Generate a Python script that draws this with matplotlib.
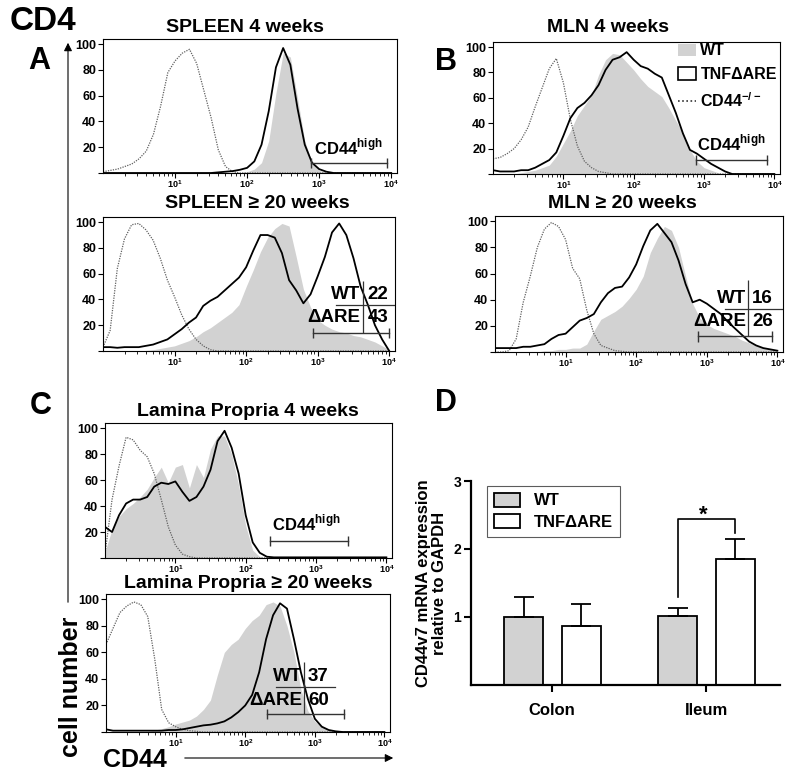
import numpy as np
import matplotlib.pyplot as plt
from matplotlib.patches import Patch
from matplotlib.lines import Line2D
from matplotlib.ticker import LogLocator, NullFormatter

plt.rcParams['font.family'] = ['Liberation Sans', 'DejaVu Sans']
plt.rcParams['font.weight'] = 'bold'
plt.rcParams['axes.labelweight'] = 'bold'
plt.rcParams['mathtext.fontset'] = 'custom'
plt.rcParams['mathtext.rm'] = 'Liberation Sans'
plt.rcParams['mathtext.bf'] = 'Liberation Sans:bold'

W, H = 800, 777

# histogram samples: log10 of CD44 intensity, 0.0 ... 4.0
log_cd44 = np.round(np.arange(0, 4.01, 0.1), 1)

# SPLEEN 4 weeks
spleen4_ko = [1, 2, 3, 5, 7, 11, 17, 30, 52, 78,
              87, 93, 96, 85, 64, 43, 18, 5, 1, 0,
              0, 0, 0, 0, 0, 0, 0, 0, 0, 0,
              0, 0, 0, 0, 0, 0, 0, 0, 0, 0, 0]
spleen4_tnf = [0, 0, 0, 0, 0, 0, 0, 0, 0, 0,
               0, 0, 0, 0, 0, 0, 0.5, 1, 1.5, 2.5,
               4, 9, 22, 48, 82, 97, 84, 50, 22, 8,
               3, 1, 0, 0, 0, 0, 0, 0, 0, 0, 0]
spleen4_wt = [0, 0, 0, 0, 0, 0, 0, 0, 0, 0,
              0, 0, 0, 0, 0, 0, 0, 0, 0, 0,
              1, 3, 8, 25, 62, 93, 90, 58, 25, 8,
              2, 0.5, 0, 0, 0, 0, 0, 0, 0, 0, 0]

# SPLEEN >= 20 weeks
spleen20_ko = [3, 16, 64, 87, 98, 99, 94, 86, 72, 55,
               42, 28, 17, 9, 4, 1, 0, 0, 0, 0,
               0, 0, 0, 0, 0, 0, 0, 0, 0, 0,
               0, 0, 0, 0, 0, 0, 0, 0, 0, 0, 0]
spleen20_tnf = [3, 3, 2.5, 3, 3, 3, 4, 5, 7, 9,
                13, 17, 22, 26, 35, 39, 42, 47, 52, 57,
                65, 78, 90, 90, 88, 76, 55, 47, 37, 44,
                58, 73, 92, 99, 90, 72, 50, 36, 20, 9, 0]
spleen20_wt = [0, 0, 0, 0, 0, 0, 0.5, 1, 2, 3,
               4, 6, 8, 11, 15, 18, 22, 26, 30, 36,
               50, 63, 77, 88, 95, 99, 97, 73, 48, 34,
               24, 20, 17, 15, 14, 12, 11, 9, 7, 4, 1]

# MLN 4 weeks
mln4_ko = [12, 13, 16, 20, 27, 37, 53, 68, 83, 91,
           72, 43, 22, 10, 5, 2, 1, 0, 0, 0,
           0, 0, 0, 0, 0, 0, 0, 0, 0, 0,
           0, 0, 0, 0, 0, 0, 0, 0, 0, 0, 0]
mln4_tnf = [3, 2, 2, 2, 3, 3, 5, 8, 11, 17,
            30, 44, 52, 56, 62, 70, 82, 90, 92, 96,
            90, 85, 83, 79, 76, 62, 48, 32, 19, 16,
            12, 8, 5, 2, 0, 0, 0, 0, 0, 0, 0]
mln4_wt = [0, 0, 0, 0, 1, 2, 3, 5, 7, 14,
           24, 34, 46, 54, 62, 78, 90, 95, 94, 88,
           82, 75, 69, 65, 61, 52, 42, 32, 19, 10,
           5, 3, 1, 0, 0, 0, 0, 0, 0, 0, 0]

# MLN >= 20 weeks
mln20_ko = [0, 0, 1, 10, 38, 58, 80, 94, 99, 96,
            86, 64, 56, 32, 14, 5, 3, 1, 0.5, 0,
            0, 0, 0, 0, 0, 0, 0, 0, 0, 0,
            0, 0, 0, 0, 0, 0, 0, 0, 0, 0, 0]
mln20_tnf = [3, 3, 3, 3, 4, 4, 5, 6, 10, 13,
             14, 19, 24, 26, 29, 38, 45, 49, 50, 57,
             67, 81, 93, 98, 91, 84, 70, 52, 38, 40,
             37, 33, 29, 23, 18, 13, 8, 5, 3, 2, 1]
mln20_wt = [0, 0, 0, 0, 0, 0, 0, 1, 1, 2,
            2, 3, 3, 6, 16, 25, 28, 31, 35, 41,
            48, 58, 76, 87, 96, 93, 80, 58, 37, 26,
            21, 18, 16, 14, 12, 9, 7, 5, 3, 2, 0]

# Lamina Propria 4 weeks
lp4_ko = [3, 45, 71, 93, 91, 83, 78, 65, 45, 24,
          10, 3, 1, 0, 0, 0, 0, 0, 0, 0,
          0, 0, 0, 0, 0, 0, 0, 0, 0, 0,
          0, 0, 0, 0, 0, 0, 0, 0, 0, 0, 0]
lp4_tnf = [24, 20, 33, 42, 45, 45, 47, 55, 58, 57,
           59, 51, 44, 47, 55, 68, 90, 98, 85, 65,
           33, 12, 4, 1, 0.5, 0.5, 0.5, 0.5, 0.5, 0.5,
           0.5, 0.5, 0.5, 0.5, 0.5, 0.5, 0.5, 0.5, 0.5, 0.5, 0.5]
lp4_wt = [5, 22, 32, 38, 42, 47, 53, 62, 70, 58,
          70, 72, 54, 72, 62, 84, 94, 94, 80, 56,
          25, 6, 1, 0, 0, 0, 0, 0, 0, 0,
          0, 0, 0, 0, 0, 0, 0, 0, 0, 0, 0]

# Lamina Propria >= 20 weeks
lp20_ko = [66, 78, 90, 95, 98, 96, 87, 55, 17, 7,
           4, 2, 1, 0.5, 0, 0, 0, 0, 0, 0,
           0, 0, 0, 0, 0, 0, 0, 0, 0, 0,
           0, 0, 0, 0, 0, 0, 0, 0, 0, 0, 0]
lp20_tnf = [2, 1, 1, 1, 1, 1, 1, 1, 1, 1.5,
            1.5, 2, 3, 4, 5, 5.5, 6.5, 8, 11, 15,
            20, 28, 45, 70, 88, 97, 93, 70, 45, 25,
            10, 4, 1.5, 0.5, 0, 0, 0, 0, 0, 0, 0]
lp20_wt = [0, 0, 0, 0, 0, 0, 0.5, 1.5, 2.5, 4,
           6, 7.5, 9, 12, 17, 24, 43, 60, 66, 70,
           78, 84, 88, 96, 98, 95, 80, 60, 32, 16,
           8, 4, 2, 0.5, 0, 0, 0, 0, 0, 0, 0]

# panel D: CD44v7 mRNA relative to GAPDH
tissues = ['Colon', 'Ileum']
wt_mean = [1.00, 1.01]
wt_sem = [0.29, 0.12]
tnf_mean = [0.87, 1.85]
tnf_sem = [0.32, 0.29]

WT_GRAY = '#d2d2d2'

fig = plt.figure(figsize=(W / 100, H / 100), dpi=100)


def rect(l, t, r, b):
    return [l / W, 1 - b / H, (r - l) / W, (b - t) / H]


def hist_axes(box, wt, tnf, ko):
    ax = fig.add_axes(rect(*box))
    x = 10 ** log_cd44
    ax.fill_between(x, 0, wt, color=WT_GRAY, lw=0)
    ax.plot(x, ko, color='#606060', lw=0.9, ls=(0, (1, 1)))
    ax.plot(x, tnf, color='black', lw=1.3)
    ax.set_xscale('log')
    ax.set_xlim(1, 10 ** 4.08)
    ax.set_ylim(0, 104)
    ax.set_xticks([10, 100, 1000, 10000],
                  ['$10^{1}$', '$10^{2}$', '$10^{3}$', '$10^{4}$'],
                  fontsize=6.5, fontweight='normal')
    ax.xaxis.set_minor_locator(LogLocator(base=10, subs=np.arange(2, 10), numticks=20))
    ax.xaxis.set_minor_formatter(NullFormatter())
    ax.set_yticks([0, 20, 40, 60, 80, 100], ['', '20', '40', '60', '80', '100'], fontsize=9)
    ax.tick_params(which='major', direction='out', length=3.5, width=0.8, pad=1.5)
    ax.tick_params(axis='x', which='major', pad=0.5)
    ax.tick_params(which='minor', direction='out', length=2, width=0.6)
    for s in ax.spines.values():
        s.set_linewidth(0.8)
    return ax


def gate(ax, lo, hi, y):
    ax.plot([10 ** lo, 10 ** hi], [y, y], color='#333333', lw=1)
    ax.vlines([10 ** lo, 10 ** hi], y - 4, y + 4, color='#333333', lw=1)


def table(ax, split, sep_lo, sep_hi, sep_y, top, gate_y, wt_txt, are_txt, num_x):
    ax.vlines(10 ** split, gate_y, top, color='#333333', lw=0.9)
    ax.plot([10 ** sep_lo, 10 ** sep_hi], [sep_y, sep_y], color='#333333', lw=0.9)
    ax.text(10 ** (split - 0.03), sep_y + 8, 'WT', ha='right', va='center', fontsize=13.5)
    ax.text(10 ** (split - 0.03), sep_y - 10, 'ΔARE', ha='right', va='center', fontsize=13.5)
    ax.text(10 ** num_x, sep_y + 8, wt_txt, ha='center', va='center', fontsize=13.5)
    ax.text(10 ** num_x, sep_y - 10, are_txt, ha='center', va='center', fontsize=13.5)


HIGH = r'CD44$^{\mathbf{high}}$'

# A
ax = hist_axes((103, 39, 397, 173), spleen4_wt, spleen4_tnf, spleen4_ko)
gate(ax, 2.88, 3.94, 8)
ax.text(10 ** 3.41, 20, HIGH, ha='center', va='center', fontsize=12)

ax = hist_axes((103, 217, 395, 351), spleen20_wt, spleen20_tnf, spleen20_ko)
gate(ax, 2.94, 3.99, 14)
table(ax, 3.63, 3.26, 4.08, 36, 54, 14, '22', '43', 3.84)

# B
ax = hist_axes((493, 42, 780, 174), mln4_wt, mln4_tnf, mln4_ko)
gate(ax, 2.88, 3.9, 11)
ax.text(10 ** 3.38, 24, HIGH, ha='center', va='center', fontsize=12)
handles = [Patch(facecolor=WT_GRAY, edgecolor='none'),
           Patch(facecolor='white', edgecolor='black', lw=1.2),
           Line2D([], [], color='#333333', ls=(0, (1, 1.5)), lw=1.2)]
ax.legend(handles, ['WT', 'TNFΔARE', r'CD44$^{\mathbf{-/-}}$'],
          loc='upper left', bbox_to_anchor=(0.645, 0.99), frameon=False,
          handlelength=1.1, handleheight=0.8, handletextpad=0.3, labelspacing=0.55,
          borderaxespad=0, borderpad=0, prop={'size': 11.5, 'weight': 'bold'})

ax = hist_axes((495, 216, 783, 352), mln20_wt, mln20_tnf, mln20_ko)
gate(ax, 2.88, 3.93, 12)
table(ax, 3.59, 3.26, 4.08, 33, 55, 12, '16', '26', 3.79)

# C
ax = hist_axes((105, 423, 392, 558), lp4_wt, lp4_tnf, lp4_ko)
gate(ax, 2.35, 3.46, 13)
ax.text(10 ** 2.86, 27, HIGH, ha='center', va='center', fontsize=12)

ax = hist_axes((106, 594, 390, 732), lp20_wt, lp20_tnf, lp20_ko)
gate(ax, 2.32, 3.42, 13.5)
table(ax, 2.85, 2.44, 3.29, 34, 53, 13.5, '37', '60', 3.05)

# D
ax = fig.add_axes(rect(471, 481, 780, 685))
pos = np.arange(len(tissues))
bw = 0.25
ax.bar(pos - 0.185, wt_mean, bw, color=WT_GRAY, edgecolor='black', lw=1.3,
       yerr=[np.zeros(len(pos)), wt_sem], capsize=7,
       error_kw=dict(lw=1.3, capthick=1.3, ecolor='black'), label='WT')
ax.bar(pos + 0.19, tnf_mean, bw, color='white', edgecolor='black', lw=1.3,
       yerr=[np.zeros(len(pos)), tnf_sem], capsize=7,
       error_kw=dict(lw=1.3, capthick=1.3, ecolor='black'), label='TNFΔARE')
ax.plot([pos[1] - 0.185, pos[1] - 0.185, pos[1] + 0.19, pos[1] + 0.19],
        [1.30, 2.44, 2.44, 2.23], color='black', lw=1.2)
ax.text(pos[1] - 0.02, 2.42, '*', ha='center', va='baseline', fontsize=16)
ax.set_xlim(-0.526, 1.48)
ax.set_ylim(0, 3)
ax.set_xticks(pos, tissues, fontsize=12)
ax.set_yticks([1, 2, 3], ['1', '2', '3'], fontsize=10)
ax.tick_params(axis='x', direction='out', length=5, width=1.5, pad=8)
ax.tick_params(axis='y', direction='out', length=5, width=1.5, pad=2)
ax.spines['top'].set_visible(False)
ax.spines['right'].set_visible(False)
ax.spines['left'].set_linewidth(1.6)
ax.spines['bottom'].set_linewidth(1.6)
ax.set_ylabel('CD44v7 mRNA expression\nrelative to GAPDH', fontsize=12, fontweight='bold',
              labelpad=5, linespacing=1.05)
leg = ax.legend(loc='upper left', bbox_to_anchor=(0.052, 0.975), fancybox=False,
                edgecolor='#333333', handlelength=1.6, handleheight=0.9,
                labelspacing=0.35, borderaxespad=0, prop={'size': 12, 'weight': 'bold'})
leg.get_frame().set_linewidth(0.8)

# figure-level labels in pixel coordinates
ov = fig.add_axes([0, 0, 1, 1])
ov.set_xlim(0, W)
ov.set_ylim(H, 0)
ov.axis('off')

titles = [('SPLEEN 4 weeks', 245, 28), ('SPLEEN ≥ 20 weeks', 257, 203),
          ('MLN 4 weeks', 608, 27), ('MLN ≥ 20 weeks', 622, 203),
          ('Lamina Propria 4 weeks', 248, 412), ('Lamina Propria ≥ 20 weeks', 248, 583)]
for t, x, y in titles:
    ov.text(x, y, t, ha='center', va='center', fontsize=14)

ov.text(43, 22, 'CD4', ha='center', va='center', fontsize=24)
for letter, x, y in [('A', 39, 61), ('B', 446, 62), ('C', 41, 406), ('D', 446, 403)]:
    ov.text(x, y, letter, ha='center', va='center', fontsize=22)

ov.text(71, 687, 'cell number', rotation=90, ha='center', va='center', fontsize=18)
ov.text(135, 760, 'CD44', ha='center', va='center', fontsize=18)
ov.annotate('', xy=(68, 40), xytext=(68, 605),
            arrowprops=dict(arrowstyle='-|>', lw=0.8, color='black', mutation_scale=12))
ov.annotate('', xy=(396, 758), xytext=(182, 758),
            arrowprops=dict(arrowstyle='-|>', lw=0.8, color='black', mutation_scale=12))

fig.savefig('out.png', dpi=100)
